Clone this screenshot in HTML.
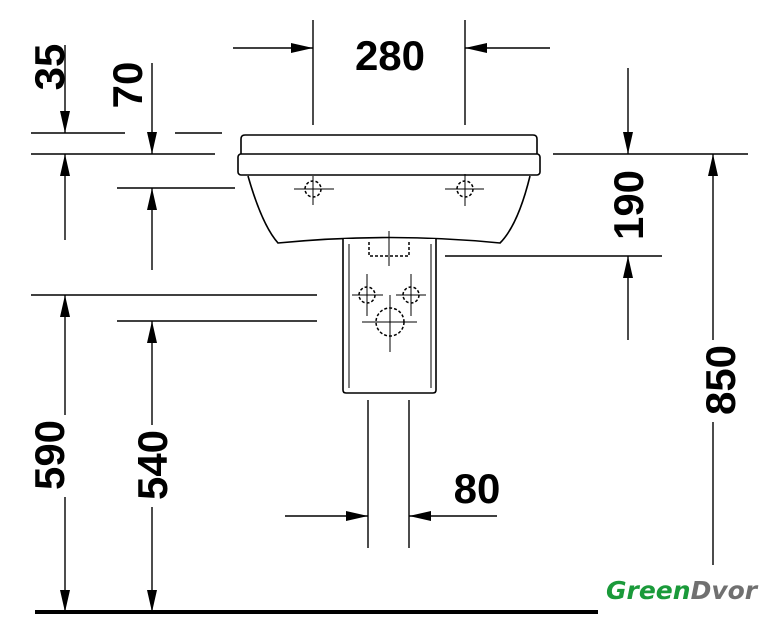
<!DOCTYPE html>
<html><head><style>body{margin:0;background:#fff}svg{display:block}</style></head><body>
<svg width="769" height="640" viewBox="0 0 769 640" xmlns="http://www.w3.org/2000/svg">
<defs>
<marker id="a" markerWidth="22" markerHeight="10" refX="22" refY="5" orient="auto" markerUnits="userSpaceOnUse" viewBox="0 0 22 10">
<path d="M0,0 L22,5 L0,10 Z" fill="#000"/>
</marker>
</defs>
<g stroke="#000" stroke-width="1.4" fill="none">
<line x1="31" y1="133" x2="125" y2="133"/>
<line x1="175" y1="133" x2="222" y2="133"/>
<line x1="31" y1="154" x2="215" y2="154"/>
<line x1="117" y1="188" x2="235" y2="188"/>
<line x1="31" y1="295" x2="317" y2="295"/>
<line x1="117" y1="321" x2="317" y2="321"/>
<line x1="553" y1="154" x2="748" y2="154"/>
<line x1="445" y1="256" x2="662" y2="256"/>
<line x1="313" y1="20" x2="313" y2="125"/>
<line x1="465" y1="20" x2="465" y2="125"/>
<line x1="368" y1="400" x2="368" y2="548"/>
<line x1="409" y1="400" x2="409" y2="548"/>
</g>
<g stroke="#000" stroke-width="1.4">
<line x1="65" y1="45" x2="65" y2="133" marker-end="url(#a)"/>
<line x1="65" y1="240" x2="65" y2="154" marker-end="url(#a)"/>
<line x1="152" y1="63" x2="152" y2="154" marker-end="url(#a)"/>
<line x1="152" y1="270" x2="152" y2="188" marker-end="url(#a)"/>
<line x1="65" y1="415" x2="65" y2="295" marker-end="url(#a)"/>
<line x1="65" y1="497" x2="65" y2="612" marker-end="url(#a)"/>
<line x1="152" y1="425" x2="152" y2="321" marker-end="url(#a)"/>
<line x1="152" y1="507" x2="152" y2="612" marker-end="url(#a)"/>
<line x1="233" y1="48" x2="313" y2="48" marker-end="url(#a)"/>
<line x1="550" y1="48" x2="465" y2="48" marker-end="url(#a)"/>
<line x1="628" y1="68" x2="628" y2="154" marker-end="url(#a)"/>
<line x1="628" y1="340" x2="628" y2="256" marker-end="url(#a)"/>
<line x1="713" y1="340" x2="713" y2="154" marker-end="url(#a)"/>
<line x1="713" y1="422" x2="713" y2="565"/>
<line x1="285" y1="516" x2="368" y2="516" marker-end="url(#a)"/>
<line x1="497" y1="516" x2="409" y2="516" marker-end="url(#a)"/>
</g>
<line x1="35" y1="612" x2="598" y2="612" stroke="#000" stroke-width="4"/>
<g stroke="#000" stroke-width="1.6" fill="#fff">
<path d="M241,154 L241,139 Q241,135 245,135 L533,135 Q537,135 537,139 L537,154"/>
<rect x="238" y="154" width="302" height="21" rx="3"/>
<path d="M248,176 Q262,225 278,243 Q390,232 500,243 Q518,225 530,176"/>
<path d="M343,239 L343,390 Q343,393 346,393 L433,393 Q436,393 436,390 L436,239"/>
<line x1="349" y1="244" x2="349" y2="388" stroke-width="1"/>
<line x1="431" y1="244" x2="431" y2="388" stroke-width="1"/>
</g>
<g stroke="#000" stroke-width="1" fill="none">
<line x1="294" y1="189" x2="334" y2="189"/><line x1="313" y1="176" x2="313" y2="205"/>
<circle cx="313" cy="189" r="8" stroke-dasharray="3,2" stroke-width="1.5"/>
<line x1="445" y1="189" x2="484" y2="189"/><line x1="465" y1="174" x2="465" y2="206"/>
<circle cx="465" cy="189" r="8" stroke-dasharray="3,2" stroke-width="1.5"/>
<path d="M369,242 L369,256 L409,256 L409,242" stroke-dasharray="3,2" stroke-width="1.5"/>
<line x1="389" y1="231" x2="389" y2="266"/>
<line x1="352" y1="295" x2="383" y2="295"/><line x1="367" y1="274" x2="367" y2="316"/>
<circle cx="367" cy="295" r="8" stroke-dasharray="3,2" stroke-width="1.5"/>
<line x1="396" y1="295" x2="426" y2="295"/><line x1="411" y1="274" x2="411" y2="316"/>
<circle cx="411" cy="295" r="8" stroke-dasharray="3,2" stroke-width="1.5"/>
<line x1="362" y1="322" x2="417" y2="322"/><line x1="390" y1="295" x2="390" y2="352"/>
<circle cx="390" cy="322" r="14" stroke-dasharray="3,2" stroke-width="1.5"/>
</g>
<g font-family="Liberation Sans, sans-serif" font-weight="bold" font-size="42" fill="#000" text-anchor="middle">
<text x="390" y="70">280</text>
<text x="477" y="503">80</text>
<text transform="translate(64,67) rotate(-90)">35</text>
<text transform="translate(142,85) rotate(-90)">70</text>
<text transform="translate(643,205) rotate(-90)">190</text>
<text transform="translate(735,380) rotate(-90)">850</text>
<text transform="translate(64,455) rotate(-90)">590</text>
<text transform="translate(167,465) rotate(-90)">540</text>
</g>
<text x="606" y="599" font-family="DejaVu Sans, sans-serif" font-style="italic" font-weight="bold" font-size="25" fill="#1a9a3a">Green<tspan fill="#707070">Dvor</tspan></text>
</svg>
</body></html>
